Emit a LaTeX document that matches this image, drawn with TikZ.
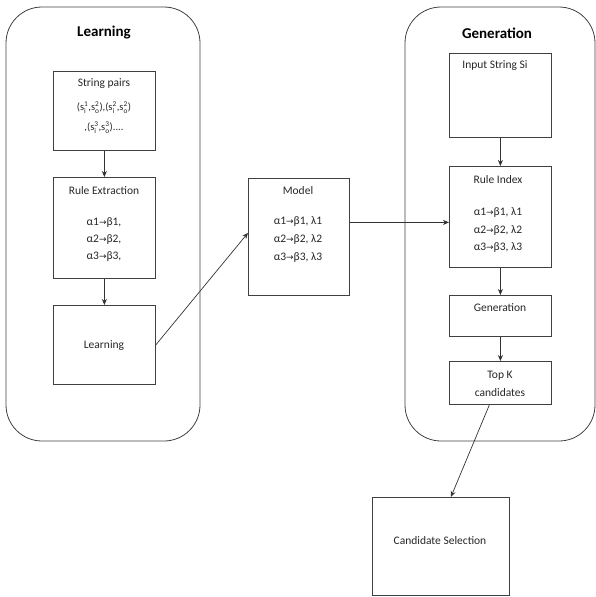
\documentclass[tikz,border=0pt]{standalone}
\usepackage{fontspec}
\setmainfont{Carlito}
\newfontfamily\symfont{DejaVu Sans}
\usepackage{amsmath}
\usetikzlibrary{arrows.meta}
\newcommand{\rarr}{{\symfont\fontsize{9}{10}\selectfont →}}
\newcommand{\sio}[2]{$\text{s}_{\text{#1}}^{\text{#2}}$}
\tikzset{
  container/.style={draw=black!75, line width=0.8pt, rounded corners=36pt},
  box/.style={draw=black!75, line width=0.8pt, anchor=north west, inner sep=0pt},
  txt/.style={font=\fontsize{11.5}{13.5}\selectfont, inner sep=0pt, align=center, text=black!85},
  title/.style={font=\fontsize{15}{17}\selectfont\bfseries, inner sep=0pt, text=black},
  arr/.style={draw=black!80, line width=0.7pt, -{Stealth[length=6pt,width=5pt]}},
}
\begin{document}
\begin{tikzpicture}[x=1pt,y=-1pt]
\useasboundingbox (0,0) rectangle (596,597);
% containers
\draw[container] (6,7) rectangle (200,441);
\draw[container] (405,7) rectangle (595,441);
\node[title] (tl) at (104,33) {Learning};
\node[title] (tg) at (497,33) {Generation};
% left boxes
\node[box, minimum width=102pt, minimum height=79pt] (sp) at (53,71) {};
\node[txt] (sptitle) at (104,84) {String pairs};
\node[txt, font=\fontsize{10.5}{20}\selectfont] (sp1) at (104,118) {(\sio{i}{1},\sio{o}{2}),(\sio{i}{2},\sio{o}{2})\\,(\sio{i}{3},\sio{o}{3})....};
\node[box, minimum width=102pt, minimum height=101pt] (re) at (53,177) {};
\node[txt] (retitle) at (104,191) {Rule Extraction};
\node[txt] (re1) at (104,223) {α1\rarr β1,};
\node[txt] (re2) at (104,240) {α2\rarr β2,};
\node[txt] (re3) at (104,257) {α3\rarr β3,};
\node[box, minimum width=102pt, minimum height=79pt] (lb) at (53,305) {};
\node[txt] (lbtxt) at (104,346) {Learning};
% model
\node[box, minimum width=101pt, minimum height=117pt] (model) at (248,178) {};
\node[txt] (mtitle) at (298,191) {Model};
\node[txt] (m1) at (298,222) {α1\rarr β1, λ1};
\node[txt] (m2) at (298,240) {α2\rarr β2, λ2};
\node[txt] (m3) at (298,258) {α3\rarr β3, λ3};
% right boxes
\node[box, minimum width=102pt, minimum height=84pt] (inp) at (449,53) {};
\node[txt] (inptxt) at (495,66) {Input String Si};
\node[box, minimum width=102pt, minimum height=101pt] (ri) at (449,166) {};
\node[txt] (rititle) at (498,180) {Rule Index};
\node[txt] (ri1) at (498,213) {α1\rarr β1, λ1};
\node[txt] (ri2) at (498,231) {α2\rarr β2, λ2};
\node[txt] (ri3) at (498,248) {α3\rarr β3, λ3};
\node[box, minimum width=102pt, minimum height=41pt] (gen) at (449,295) {};
\node[txt] (gentxt) at (500,308) {Generation};
\node[box, minimum width=102pt, minimum height=43pt] (topk) at (449,361) {};
\node[txt] (topk1) at (500,376) {Top K};
\node[txt] (topk2) at (500,393) {candidates};
\node[box, minimum width=137pt, minimum height=98pt] (cs) at (372,497) {};
\node[txt] (cstxt) at (440,541) {Candidate Selection};
% connectors
\coordinate (mr) at ([yshift=14.5pt]model.east);
\draw[arr] (sp.south) -- (re.north);
\draw[arr] (re.south) -- (lb.north);
\draw[arr] (lb.east) -- ([yshift=4pt]model.west);
\draw[arr] (mr) -- (mr -| ri.west);
\draw[arr] (inp.south) -- (ri.north);
\draw[arr] (ri.south) -- (gen.north);
\draw[arr] (gen.south) -- (topk.north);
\draw[arr] ([xshift=-11pt]topk.south) -- ([xshift=10pt]cs.north);
\end{tikzpicture}
\end{document}
